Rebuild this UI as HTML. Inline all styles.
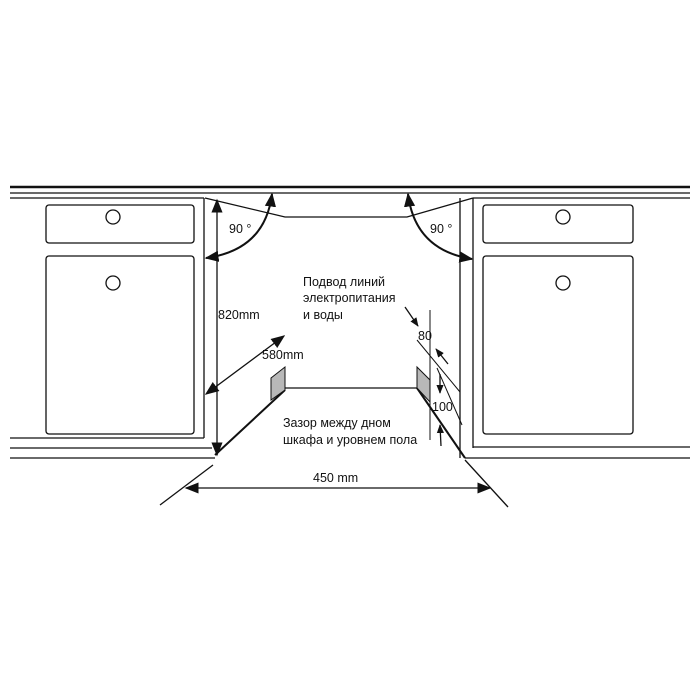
<!DOCTYPE html>
<html><head><meta charset="utf-8"><style>
html,body{margin:0;padding:0;background:#fff}
svg{display:block}
text{font-family:"Liberation Sans",sans-serif;font-size:12.5px;fill:#111}
</style></head><body>
<svg width="700" height="700" viewBox="0 0 700 700">
<defs>
<marker id="a" viewBox="0 0 10 10" refX="9" refY="5" markerWidth="9" markerHeight="9" markerUnits="userSpaceOnUse" orient="auto-start-reverse"><path d="M0,1 L10,5 L0,9 z" fill="#111"/></marker>
<marker id="b" viewBox="0 0 10 10" refX="9" refY="5" markerWidth="14" markerHeight="14" markerUnits="userSpaceOnUse" orient="auto-start-reverse"><path d="M0,1 L10,5 L0,9 z" fill="#111"/></marker>
</defs>
<g stroke="#111" fill="none" stroke-width="1.3">
<line x1="10" y1="187" x2="690" y2="187" stroke-width="2.5"/>
<line x1="10" y1="193" x2="690" y2="193"/>
<line x1="10" y1="198" x2="204" y2="198"/>
<line x1="473" y1="198" x2="690" y2="198"/>
<line x1="204" y1="198" x2="204" y2="438"/>
<line x1="10" y1="438" x2="204" y2="438"/>
<line x1="10" y1="448" x2="212" y2="448"/>
<line x1="10" y1="458" x2="215" y2="458"/>
<rect x="46" y="205" width="148" height="38" rx="3"/>
<rect x="46" y="256" width="148" height="178" rx="3"/>
<circle cx="113" cy="217" r="7"/>
<circle cx="113" cy="283" r="7"/>
<line x1="473" y1="198" x2="473" y2="448"/>
<line x1="460" y1="198" x2="460" y2="458"/>
<line x1="473" y1="447" x2="690" y2="447"/>
<line x1="465" y1="458" x2="690" y2="458"/>
<rect x="483" y="205" width="150" height="38" rx="3"/>
<rect x="483" y="256" width="150" height="178" rx="3"/>
<circle cx="563" cy="217" r="7"/>
<circle cx="563" cy="283" r="7"/>
<polyline points="205,198 285,217 407,217 473,198"/>
<line x1="285" y1="388" x2="417" y2="388"/>
<line x1="285" y1="390" x2="215" y2="455" stroke-width="2"/>
<line x1="417" y1="388" x2="465" y2="458" stroke-width="2"/>
<polygon points="271,378 285,367 285,390 271,400" fill="#b8b8b8" stroke-width="1"/>
<polygon points="417,367 430,380 430,402 417,388" fill="#b8b8b8" stroke-width="1"/>
<line x1="217" y1="200" x2="217" y2="455" marker-start="url(#b)" marker-end="url(#b)"/>
<line x1="206" y1="394" x2="284" y2="336" marker-start="url(#b)" marker-end="url(#b)"/>
<line x1="186" y1="488" x2="490" y2="488" marker-start="url(#b)" marker-end="url(#b)"/>
<line x1="160" y1="505" x2="213" y2="465"/>
<line x1="465" y1="460" x2="508" y2="507"/>
<path d="M206,258 Q265,250 272,194" marker-start="url(#b)" marker-end="url(#b)" stroke-width="2"/>
<path d="M408,194 Q415,250 472,259" marker-start="url(#b)" marker-end="url(#b)" stroke-width="2"/>
<line x1="430" y1="310" x2="430" y2="440" stroke-width="1"/>
<line x1="417" y1="340" x2="460" y2="392" stroke-width="1"/>
<line x1="437" y1="368" x2="462" y2="425" stroke-width="1"/>
<line x1="405" y1="307" x2="418" y2="326" marker-end="url(#a)"/>
<line x1="448" y1="364" x2="436" y2="349" marker-end="url(#a)"/>
<line x1="440" y1="374" x2="440" y2="393" marker-end="url(#a)"/>
<line x1="441" y1="446" x2="440" y2="425" marker-end="url(#a)"/>
</g>
<text x="229" y="233">90 °</text>
<text x="430" y="233">90 °</text>
<text x="218" y="319">820mm</text>
<text x="262" y="359">580mm</text>
<text x="303" y="286">Подвод линий</text>
<text x="303" y="302">электропитания</text>
<text x="303" y="319">и воды</text>
<text x="418" y="340">80</text>
<text x="432" y="411">100</text>
<text x="283" y="427">Зазор между дном</text>
<text x="283" y="444">шкафа и уровнем пола</text>
<text x="313" y="482">450 mm</text>
</svg>
</body></html>
